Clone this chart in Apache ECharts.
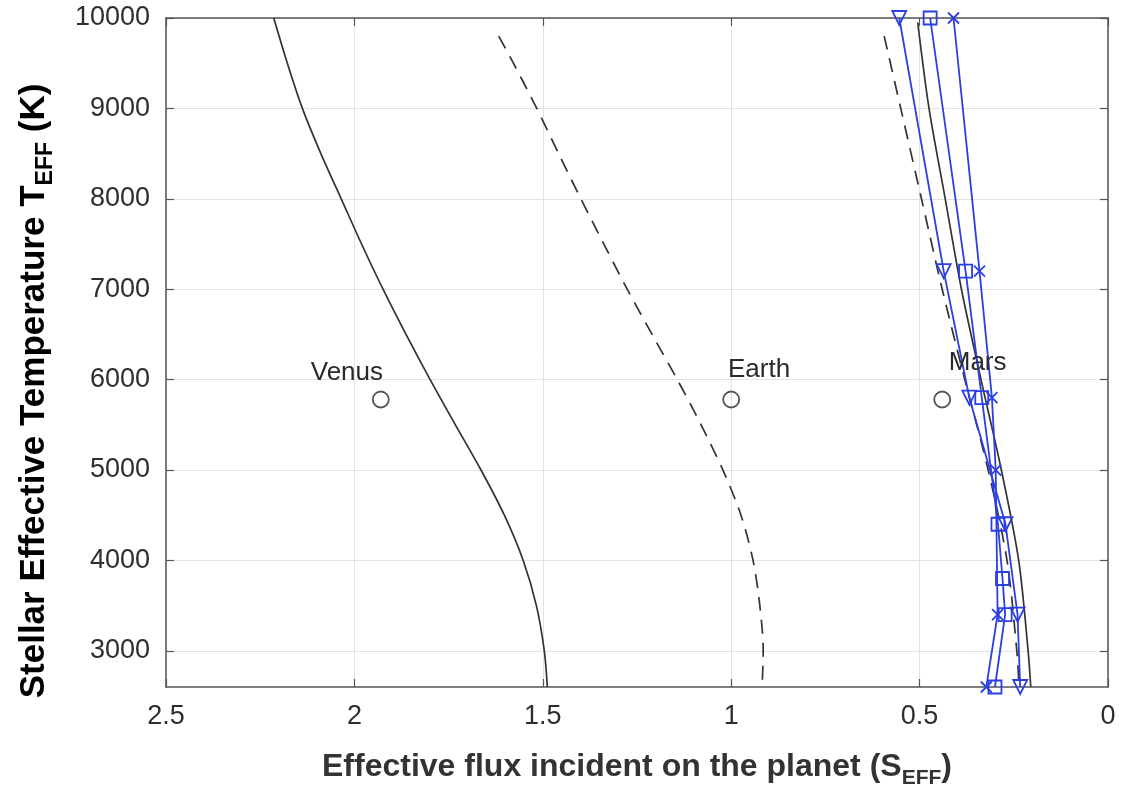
<!DOCTYPE html>
<html>
<head>
<meta charset="utf-8">
<script src="https://cdn.jsdelivr.net/npm/echarts@6/dist/echarts.min.js"></script>
<style>
  html, body { margin: 0; padding: 0; background: #fff; }
  #chart { width: 1125px; height: 794px; }
</style>
</head>
<body>
<div id="chart"></div>
<script>
// tick values
const xTicks = [0, 0.5, 1, 1.5, 2, 2.5];
const yTicks = [3000, 4000, 5000, 6000, 7000, 8000, 9000, 10000];

// inner edge (solid, left)
const venusT = [10000, 9500, 9000, 8500, 8000, 7500, 7000, 6500, 6000, 5500, 5000, 4500, 4000, 3500, 3000, 2600];
const venusS = [2.214, 2.178, 2.138, 2.089, 2.035, 1.981, 1.924, 1.863, 1.799, 1.732, 1.664, 1.602, 1.552, 1.517, 1.496, 1.488];

// dashed curve through the middle
const earthT = [9800, 9500, 9000, 8500, 8000, 7500, 7000, 6500, 6000, 5500, 5000, 4500, 4000, 3500, 3000, 2600];
const earthS = [1.617, 1.578, 1.516, 1.458, 1.399, 1.338, 1.276, 1.210, 1.143, 1.080, 1.022, 0.974, 0.942, 0.924, 0.915, 0.918];

// outer edge curves (black)
const outerSolidT = [9950, 9000, 8000, 7000, 6000, 5000, 4000, 3000, 2600];
const outerSolidS = [0.505, 0.475, 0.432, 0.389, 0.337, 0.283, 0.237, 0.212, 0.205];
const outerDashT = [9800, 9000, 8000, 7000, 6000, 5000, 4000, 3000, 2600];
const outerDashS = [0.594, 0.550, 0.495, 0.440, 0.380, 0.318, 0.268, 0.242, 0.236];

// blue model points
const triT = [10000, 7200, 5800, 4400, 3400, 2600];
const triS = [0.554, 0.436, 0.368, 0.272, 0.240, 0.233];
const sqT = [10000, 7200, 5800, 4400, 3800, 3400, 2600];
const sqS = [0.472, 0.378, 0.335, 0.292, 0.280, 0.273, 0.300];
const crossT = [10000, 7200, 5800, 5000, 3400, 2600];
const crossS = [0.410, 0.341, 0.308, 0.298, 0.293, 0.323];

// planets
const planetNames = ["Venus", "Earth", "Mars"];
const planetS = [1.93, 1.0, 0.44];
const planetT = [5780, 5780, 5780];
const planetLabelS = [2.02, 0.926, 0.346];
const planetLabelT = [6080, 6110, 6190];

const zip = (xs, ys) => xs.map((x, i) => [x, ys[i]]);

const blue = "#2b3fe3";
const dark = "#2e2e2e";
const font = "Liberation Sans";

const chart = echarts.init(document.getElementById("chart"));

const blueLine = (name, sx, ty, symbol, size) => ({
  name,
  type: "line",
  data: zip(sx, ty),
  symbol,
  symbolSize: size,
  showSymbol: true,
  lineStyle: { color: blue, width: 1.8 },
  itemStyle: { color: "transparent", borderColor: blue, borderWidth: 1.8 },
  z: 5,
  animation: false,
});

const blackLine = (sx, ty, dashed) => ({
  type: "line",
  data: zip(sx, ty),
  smooth: 0.3,
  showSymbol: false,
  symbol: "none",
  lineStyle: { color: "#333", width: 1.7, type: dashed ? [14, 9] : "solid" },
  z: 3,
  animation: false,
});

const titleRich = (size) => ({
  b: { fontSize: size, fontWeight: "bold", color: "#333", fontFamily: font, lineHeight: size + 12 },
  s: { fontSize: Math.round(size * 0.66), fontWeight: "bold", color: "#333", fontFamily: font, lineHeight: Math.round(size * 0.66), verticalAlign: "bottom" },
});

const plainNum = (v) => String(v);

chart.setOption({
  animation: false,
  backgroundColor: "#fff",
  grid: { left: 166, right: 17, top: 18, bottom: 106 },
  graphic: [
    {
      type: "text",
      x: 34,
      y: 391,
      rotation: Math.PI / 2,
      style: {
        text: "{b|Stellar Effective Temperature T}{s|EFF}{b| (K)}",
        rich: titleRich(35),
        align: "center",
        verticalAlign: "middle",
      },
    },
  ],
  xAxis: [
    {
      type: "value",
      min: 0,
      max: 2.5,
      interval: 0.5,
      inverse: true,
      position: "bottom",
      axisLine: { show: true, onZero: false, lineStyle: { color: "#555", width: 1.5 } },
      axisTick: { show: true, inside: true, length: 8, lineStyle: { color: "#555", width: 1.2 } },
      axisLabel: { fontSize: 27, color: dark, fontFamily: font, margin: 16, formatter: plainNum },
      splitLine: { show: true, lineStyle: { color: "#e2e2e2", width: 1 } },
      name: "{b|Effective flux incident on the planet (S}{s|EFF}{b|)}",
      nameLocation: "middle",
      nameGap: 58,
      nameTextStyle: { rich: titleRich(32) },
    },
    {
      type: "value",
      min: 0,
      max: 2.5,
      interval: 0.5,
      inverse: true,
      position: "top",
      axisLine: { show: true, onZero: false, lineStyle: { color: "#555", width: 1.5 } },
      axisTick: { show: true, inside: true, length: 8, lineStyle: { color: "#555", width: 1.2 } },
      axisLabel: { show: false },
      splitLine: { show: false },
    },
  ],
  yAxis: [
    {
      type: "value",
      min: 2600,
      max: 10000,
      position: "left",
      axisLine: { show: true, onZero: false, lineStyle: { color: "#555", width: 1.5 } },
      axisTick: { show: true, inside: true, length: 8, customValues: yTicks, lineStyle: { color: "#555", width: 1.2 } },
      axisLabel: { fontSize: 27, color: dark, fontFamily: font, margin: 16, customValues: yTicks, formatter: plainNum },
      splitLine: { show: true, lineStyle: { color: "#e2e2e2", width: 1 } },
    },
    {
      type: "value",
      min: 2600,
      max: 10000,
      position: "right",
      axisLine: { show: true, onZero: false, lineStyle: { color: "#555", width: 1.5 } },
      axisTick: { show: true, inside: true, length: 8, customValues: yTicks, lineStyle: { color: "#555", width: 1.2 } },
      axisLabel: { show: false, customValues: yTicks },
      splitLine: { show: false },
    },
  ],
  series: [
    blackLine(venusS, venusT, false),
    blackLine(earthS, earthT, true),
    blackLine(outerDashS, outerDashT, true),
    blackLine(outerSolidS, outerSolidT, false),
    blueLine("tri", triS, triT, "path://M0,0L10,0L5,9Z", 14),
    blueLine("sq", sqS, sqT, "path://M0,0L10,0L10,10L0,10Z", 13),
    blueLine("cross", crossS, crossT, "path://M0,0L10,10M10,0L0,10", 11),
    {
      type: "scatter",
      data: zip(planetS, planetT),
      symbol: "circle",
      symbolSize: 16,
      itemStyle: { color: "transparent", borderColor: "#555", borderWidth: 1.8, opacity: 1 },
      z: 6,
      animation: false,
    },
    {
      type: "scatter",
      data: planetLabelS.map((s, i) => [s, planetLabelT[i], planetNames[i]]),
      symbolSize: 0,
      itemStyle: { opacity: 1 },
      label: {
        show: true,
        position: "inside",
        formatter: (p) => p.data[2],
        fontSize: 26,
        color: "#2a2a2a",
        fontFamily: font,
      },
      z: 7,
      animation: false,
    },
  ],
});
</script>
</body>
</html>
